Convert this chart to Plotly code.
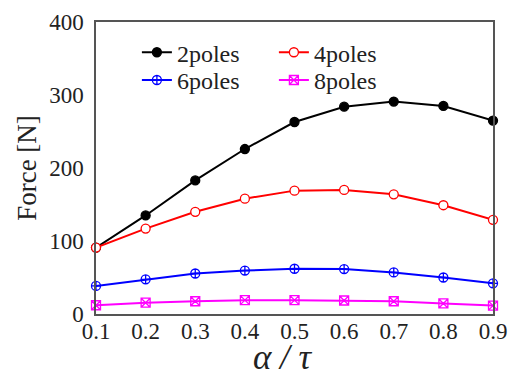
import plotly.graph_objects as go

x_vals = [0.1, 0.2, 0.3, 0.4, 0.5, 0.6, 0.7, 0.8, 0.9]
poles2 = [91, 135, 183, 226, 263, 284, 291, 285, 265]
poles4 = [91, 117, 140, 158, 169, 170, 164, 149, 129]
poles6 = [38.5, 47.5, 55.5, 59.5, 62, 61.5, 57, 50, 42]
poles8 = [12, 15.5, 17.5, 19, 19, 18.5, 17.5, 14.5, 11.5]
x_ticks = [0.1, 0.2, 0.3, 0.4, 0.5, 0.6, 0.7, 0.8, 0.9]
y_ticks = [0, 100, 200, 300, 400]
x_title = "<i>α / τ</i>"
y_title = "Force [N]"

series = [
    ("2poles", poles2, "black", "circle", "legend"),
    ("4poles", poles4, "red", "circle-open", "legend"),
    ("6poles", poles6, "blue", "circle-cross-open", "legend2"),
    ("8poles", poles8, "magenta", "square-x-open", "legend2"),
]

font_fam = "Liberation Serif"
fig = go.Figure()
for name, ys, col, sym, lg in series:
    marker = dict(symbol=sym, size=9, color=col, line=dict(color=col, width=1.3))
    if sym == "circle-open":
        marker = dict(symbol="circle", size=9, color="white", line=dict(color=col, width=1.3))
    fig.add_trace(go.Scatter(
        x=x_vals, y=ys, name=name, mode="lines+markers",
        line=dict(color=col, width=2), marker=marker, legend=lg,
        cliponaxis=False,
    ))

legend_common = dict(
    orientation="h", xanchor="left", yanchor="middle",
    font=dict(family=font_fam, size=24, color="#222"),
    bgcolor="rgba(0,0,0,0)", entrywidth=92, entrywidthmode="pixels",
    itemwidth=30, tracegroupgap=0,
)
fig.update_layout(
    width=518, height=372,
    margin=dict(l=96, r=25, t=22, b=58, autoexpand=False),
    paper_bgcolor="white", plot_bgcolor="white",
    font=dict(family=font_fam, size=23, color="#222"),
    showlegend=True,
    legend=dict(x=0.103, y=0.895, **legend_common),
    legend2=dict(x=0.103, y=0.80, **legend_common),
    xaxis=dict(
        range=[0.1, 0.9], tickvals=x_ticks, ticktext=[f"{v:.1f}" for v in x_ticks],
        showgrid=False, zeroline=False, showline=True, mirror=True,
        linecolor="#555", linewidth=1.5, ticks="", ticklabelstandoff=-4,
        tickfont=dict(family=font_fam, size=23, color="#222"),
        automargin=False,
    ),
    yaxis=dict(
        range=[0, 400], tickvals=y_ticks,
        showgrid=False, zeroline=False, showline=True, mirror=True,
        linecolor="#555", linewidth=1.5, ticks="", ticklabelstandoff=6,
        tickfont=dict(family=font_fam, size=23, color="#222"),
        automargin=False,
        title=dict(text=y_title, font=dict(size=27, family=font_fam), standoff=5),
    ),
    annotations=[dict(
        text=x_title, xref="paper", yref="paper", x=0.471, y=-0.149,
        xanchor="center", yanchor="middle", showarrow=False,
        font=dict(size=35, family=font_fam, color="#222"),
    )],
)
fig.write_html(
    "out.html",
    config={"displayModeBar": False},
    post_script="document.body.style.margin='0';document.body.style.overflow='hidden';",
)
